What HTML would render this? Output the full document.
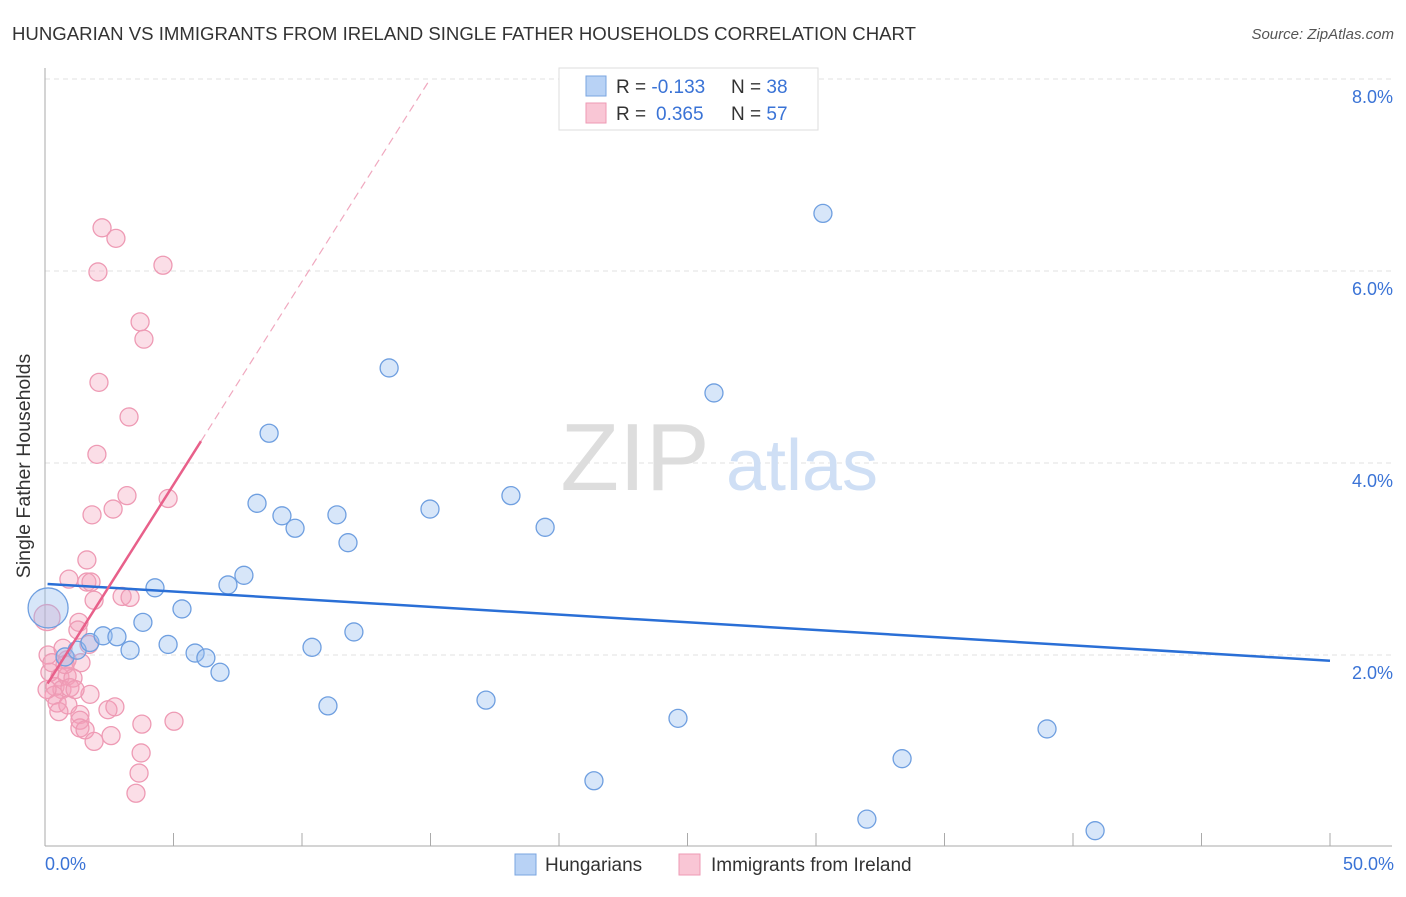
<!DOCTYPE html>
<html><head><meta charset="utf-8"><style>
body{margin:0;background:#fff;font-family:"Liberation Sans",sans-serif;}
svg text{font-family:"Liberation Sans",sans-serif;}
</style></head><body>
<svg width="1406" height="892" id="chart">
<text x="12" y="40" font-size="18.6" fill="#333">HUNGARIAN VS IMMIGRANTS FROM IRELAND SINGLE FATHER HOUSEHOLDS CORRELATION CHART</text>
<text x="1394" y="39" font-size="15" fill="#555" font-style="italic" text-anchor="end">Source: ZipAtlas.com</text>
<g id="grid"></g>
<text x="635" y="490" font-size="96" fill="#ddd" font-family="Liberation Serif" text-anchor="middle">ZIP</text>
<text x="802" y="490" font-size="72" fill="#cfdff5" text-anchor="middle">atlas</text>
<line x1="45" y1="68" x2="45" y2="846" stroke="#aaa"/>
<line x1="45" y1="846" x2="1392" y2="846" stroke="#aaa"/>
<g id="ticks"></g>
<text x="20" y="456" font-size="19.5" fill="#333" transform="rotate(-90 30 456)" text-anchor="middle">Single Father Households</text>
<text x="45" y="870" font-size="18" fill="#3a73d6">0.0%</text>
<text x="1394" y="870" font-size="18" fill="#3a73d6" text-anchor="end">50.0%</text>
<g id="pink"></g>
<g id="blue"></g>
<g id="trend"></g>
<g>
<rect x="559" y="68" width="259" height="62" fill="#fff" stroke="#ddd"/>
<rect x="586" y="76" width="20" height="20" fill="#b8d2f5" stroke="#7aa5e0"/>
<rect x="586" y="103" width="20" height="20" fill="#f9c6d5" stroke="#ee9ab4"/>
<text x="616" y="93" font-size="19" fill="#333">R = <tspan fill="#3a73d6">-0.133</tspan><tspan x="731">N = </tspan><tspan fill="#3a73d6">38</tspan></text>
<text x="616" y="120" font-size="19" fill="#333">R = <tspan fill="#3a73d6" x="656">0.365</tspan><tspan x="731">N = </tspan><tspan fill="#3a73d6">57</tspan></text>
</g>
<g>
<rect x="515" y="854" width="21" height="21" fill="#b8d2f5" stroke="#7aa5e0"/>
<text x="545" y="871" font-size="19" fill="#333">Hungarians</text>
<rect x="679" y="854" width="21" height="21" fill="#f9c6d5" stroke="#ee9ab4"/>
<text x="711" y="871" font-size="19" fill="#333">Immigrants from Ireland</text>
</g>
</svg>
<script>
const yTicks=[2,4,6,8];
const yTickLabels=["2.0%","4.0%","6.0%","8.0%"];
const xTicks=[0,5,10,15,20,25,30,35,40,45,50];
const blueX=[0.12,0.78,1.25,1.75,2.26,2.80,3.31,3.81,4.28,4.79,5.33,5.84,6.26,6.81,7.12,7.74,8.25,8.72,9.22,9.73,10.39,11.01,11.36,11.79,12.02,13.39,14.98,17.16,18.13,19.46,21.36,24.63,26.03,30.27,31.98,33.35,38.99,40.86];
const blueY=[2.49,1.98,2.05,2.13,2.20,2.19,2.05,2.34,2.70,2.11,2.48,2.02,1.97,1.82,2.73,2.83,3.58,4.31,3.45,3.32,2.08,1.47,3.46,3.17,2.24,4.99,3.52,1.53,3.66,3.33,0.69,1.34,4.73,6.60,0.29,0.92,1.23,0.17];
const pinkX=[2.22,2.76,2.06,4.59,3.70,3.85,2.10,3.27,2.02,3.19,4.79,1.83,2.65,1.63,0.93,1.63,1.79,1.91,3.00,3.31,0.08,1.32,1.28,1.71,0.86,1.40,0.12,0.19,0.58,0.86,1.09,0.39,0.66,0.97,0.35,1.75,0.47,0.89,1.36,0.54,1.36,1.36,1.56,1.91,2.45,2.72,2.57,3.77,5.02,3.74,3.66,3.54,0.08,0.70,0.27,1.17,0.78];
const pinkY=[6.45,6.34,5.99,6.06,5.47,5.29,4.84,4.48,4.09,3.66,3.63,3.46,3.52,2.99,2.79,2.76,2.76,2.57,2.61,2.60,2.39,2.34,2.26,2.11,1.95,1.92,2.00,1.82,1.77,1.78,1.76,1.67,1.64,1.66,1.58,1.59,1.50,1.48,1.38,1.41,1.32,1.24,1.22,1.10,1.43,1.46,1.16,1.28,1.31,0.98,0.77,0.56,1.64,2.07,1.92,1.64,1.90];
const blueTrend=[2.74,1.94];
const pinkTrend=[1.66,0.423];
const X=v=>45+v*25.7, Y=v=>847-v*96;
const NS="http://www.w3.org/2000/svg";
function mk(p,tag,attrs){const e=document.createElementNS(NS,tag);for(const k in attrs)e.setAttribute(k,attrs[k]);document.getElementById(p).appendChild(e);return e;}
yTicks.forEach((t,i)=>{
 const l=mk('grid','line',{x1:45,x2:1392,y1:Y(t),y2:Y(t),stroke:'#e2e2e2','stroke-dasharray':'5,4'});
 
 
 const tx=mk('grid','text',{x:1393,y:Y(t)+24,'font-size':18,fill:'#3a73d6','text-anchor':'end'});
 tx.textContent=yTickLabels[i];
 
 
});
xTicks.forEach(t=>{
 const l=mk('ticks','line',{x1:X(t),x2:X(t),y1:833,y2:846,stroke:'#aaa'});
 
 
});
pinkX.forEach((x,i)=>{
 const r=(i==20)?13:9;
 const c=mk('pink','circle',{cx:X(x),cy:Y(pinkY[i]),r:r,fill:'rgba(244,160,185,0.35)',stroke:'#ee9ab4','stroke-width':1.3});
 
 
});
blueX.forEach((x,i)=>{
 const r=(i==0)?20:9;
 const c=mk('blue','circle',{cx:X(x),cy:Y(blueY[i]),r:r,fill:'rgba(150,190,240,0.38)',stroke:'#6f9fe0','stroke-width':1.3});
 
 
});
let l=mk('trend','line',{x1:X(0.1),y1:Y(blueTrend[0]),x2:X(50),y2:Y(blueTrend[1]),stroke:'#2a6fd6','stroke-width':2.5});


const py=x=>pinkTrend[0]+pinkTrend[1]*x;
l=mk('trend','line',{x1:X(0.1),y1:Y(py(0.1)),x2:X(6.07),y2:Y(py(6.07)),stroke:'#e8608a','stroke-width':2.5});


const xe=(8.0-pinkTrend[0])/pinkTrend[1];
l=mk('trend','line',{x1:X(6.07),y1:Y(py(6.07)),x2:X(xe),y2:Y(py(xe)),stroke:'#f0a8bf','stroke-width':1.2,'stroke-dasharray':'8,5'});


</script>
</body></html>
